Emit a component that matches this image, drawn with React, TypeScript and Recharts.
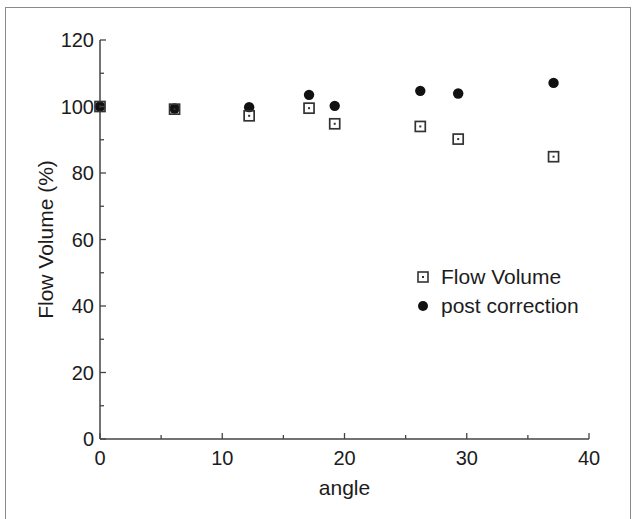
import React from 'react';
import { ScatterChart, Scatter, XAxis, YAxis, Legend, Label } from 'recharts';

const angleFlow = [0, 6.1, 12.2, 17.1, 19.2, 26.2, 29.3, 37.1];
const flowVolume = [100, 99.2, 97.2, 99.5, 94.8, 94.0, 90.2, 84.9];
const angleCorr = [0, 6.1, 12.2, 17.1, 19.2, 26.2, 29.3, 37.1];
const postCorrection = [100, 99.4, 99.8, 103.5, 100.2, 104.7, 103.9, 107.1];
const xTicks = [0, 5, 10, 15, 20, 25, 30, 35, 40];
const yTicks = [0, 10, 20, 30, 40, 50, 60, 70, 80, 90, 100, 110, 120];

const flowData = angleFlow.map((a, i) => ({ angle: a, value: flowVolume[i] }));
const corrData = angleCorr.map((a, i) => ({ angle: a, value: postCorrection[i] }));

const FONT = '"Liberation Sans", Arial, Helvetica, sans-serif';
const INK = '#1c1c1c';
const AXIS = '#444';

const SquareMark = (props: any) => {
  const { cx, cy } = props;
  if (cx == null || cy == null) return null;
  return (
    <g>
      <rect x={cx - 5} y={cy - 5} width={10} height={10} fill="none" stroke="#333" strokeWidth={1.7} />
      <rect x={cx - 1} y={cy - 1} width={2} height={2} fill="#333" />
    </g>
  );
};

const CircleMark = (props: any) => {
  const { cx, cy } = props;
  if (cx == null || cy == null) return null;
  return <circle cx={cx} cy={cy} r={5.2} fill="#111" />;
};

const XTick = (props: any) => {
  const { x, y, payload } = props;
  const major = payload.value % 10 === 0;
  return (
    <g>
      <line x1={x} x2={x} y1={y} y2={y - (major ? 6 : 4)} stroke={AXIS} strokeWidth={1.3} />
      {major && (
        <text x={x} y={y + 19} textAnchor="middle" dominantBaseline="central" fill={INK} fontSize={20} fontFamily={FONT}>
          {payload.value}
        </text>
      )}
    </g>
  );
};

const YTick = (props: any) => {
  const { x, y, payload } = props;
  const major = payload.value % 20 === 0;
  return (
    <g>
      <line x1={x} x2={x + (major ? 6 : 4)} y1={y} y2={y} stroke={AXIS} strokeWidth={1.3} />
      {major && (
        <text x={x - 6} y={y} textAnchor="end" dominantBaseline="central" fill={INK} fontSize={20} fontFamily={FONT}>
          {payload.value}
        </text>
      )}
    </g>
  );
};

const LegendContent = (props: any) => {
  const items = props.payload || [];
  return (
    <div style={{ fontFamily: FONT, fontSize: 21, color: INK, whiteSpace: 'nowrap' }}>
      {items.map((it: any, i: number) => (
        <div key={i} style={{ display: 'flex', alignItems: 'center', height: 29 }}>
          <svg width={12} height={12} style={{ marginRight: 12 }}>
            {i === 0 ? (
              <g>
                <rect x={1} y={1} width={10} height={10} fill="none" stroke="#333" strokeWidth={1.6} />
                <rect x={5} y={5} width={2} height={2} fill="#333" />
              </g>
            ) : (
              <circle cx={6} cy={6} r={5} fill="#111" />
            )}
          </svg>
          <span>{it.value}</span>
        </div>
      ))}
    </div>
  );
};

export default function App() {
  return (
    <div style={{ position: 'absolute', left: 0, top: 0, width: 633, height: 519, background: '#fff', overflow: 'hidden' }}>
      <div style={{ position: 'absolute', left: 5, top: 7, width: 626, height: 520, border: '1.5px solid #8a8a8a', boxSizing: 'border-box' }} />
      <div style={{ position: 'absolute', left: 0, top: 0 }}>
        <ScatterChart width={633} height={519} margin={{ top: 40, right: 44, bottom: 0, left: 0 }}>
          <XAxis
            type="number"
            dataKey="angle"
            domain={[0, 40]}
            ticks={xTicks}
            interval={0}
            height={80}
            tickSize={0}
            tickMargin={0}
            tickLine={false}
            tick={<XTick />}
            axisLine={{ stroke: AXIS, strokeWidth: 1.5 }}
          >
            <Label value="angle" position="center" dy={9} fill={INK} fontSize={21} fontFamily={FONT} />
          </XAxis>
          <YAxis
            type="number"
            dataKey="value"
            domain={[0, 120]}
            ticks={yTicks}
            interval={0}
            width={100}
            tickSize={0}
            tickMargin={0}
            tickLine={false}
            tick={<YTick />}
            axisLine={{ stroke: AXIS, strokeWidth: 1.5 }}
          >
            <Label value="Flow Volume (%)" angle={-90} position="center" dx={-4} fill={INK} fontSize={21} fontFamily={FONT} />
          </YAxis>
          <Legend
            layout="vertical"
            align="center"
            verticalAlign="middle"
            content={<LegendContent />}
            wrapperStyle={{ left: 417, top: 262, width: 210 }}
          />
          <Scatter name="post correction" data={corrData} shape={<CircleMark />} isAnimationActive={false} legendType="circle" />
          <Scatter name="Flow Volume" data={flowData} shape={<SquareMark />} isAnimationActive={false} legendType="square" />
        </ScatterChart>
      </div>
    </div>
  );
}
